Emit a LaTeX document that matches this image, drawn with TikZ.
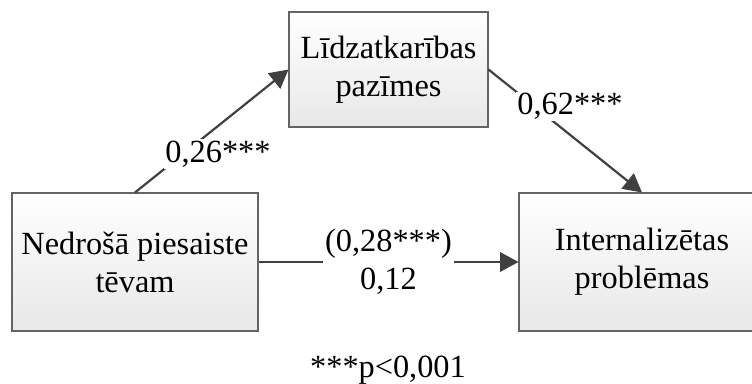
\documentclass[tikz,border=0pt]{standalone}
\usepackage{fontspec}
\setmainfont{Liberation Serif}
\usetikzlibrary{positioning, arrows.meta}

\definecolor{boxline}{RGB}{100,100,100}
\definecolor{arrowgray}{RGB}{64,64,64}

\tikzset{
  varbox/.style={draw=boxline, line width=0.6pt, top color=white, bottom color=gray!18, align=center, inner sep=2pt},
  effect/.style={draw=arrowgray, line width=1.25pt, -{Triangle[length=0.37cm, width=0.39cm]}},
  coef/.style={fill=white, inner sep=1pt, align=center}
}

\begin{document}
\begin{tikzpicture}[x=0.02cm, y=-0.02cm, font=\fontsize{18.4}{21.6}\selectfont]
    \useasboundingbox (0,0) rectangle (752,383);
    % Variables
    \node[varbox, minimum width=4.92cm, minimum height=2.76cm] (father) at (135,262) {Nedrošā piesaiste\\tēvam};
    \node[varbox, minimum width=3.98cm, minimum height=2.3cm] (codep) at (388.5,69.5) {Līdzatkarības\\pazīmes};
    \node[varbox, minimum width=4.92cm, minimum height=2.76cm] (intern) at (642,262) {Internalizētas\\problēmas};

    % Paths
    \draw[effect] (father.north) -- node[coef, pos=0.18, anchor=south west] (pa) {0,26***} (codep.west);
    \draw[effect] (codep.east) -- node[coef, pos=0.17, anchor=north west] (pb) {0,62***} (intern.north);
    \draw[effect] (father.east) -- node[coef] (pc) {(0,28***)\\0,12} (intern.west);

    % Note
    \node (note) at (388,370) {***p<0,001};
\end{tikzpicture}
\end{document}
